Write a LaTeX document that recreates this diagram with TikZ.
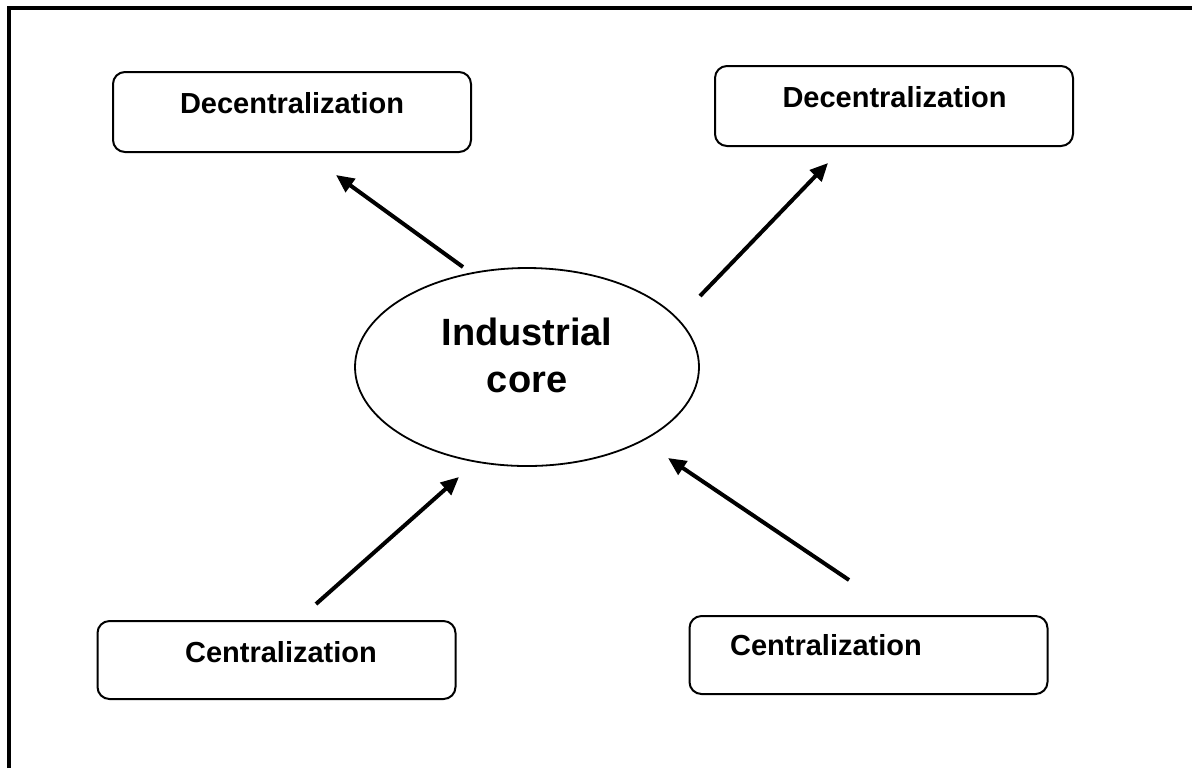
\documentclass[tikz,border=0pt]{standalone}
\usepackage{fontspec}
\setmainfont{Liberation Sans}
\usetikzlibrary{arrows.meta,shapes.geometric,positioning}

\begin{document}
\begin{tikzpicture}[x=0.5pt,y=-0.5pt,
    roundbox/.style={draw, rounded corners=6pt, line width=1pt, minimum width=179pt, minimum height=40pt, inner sep=0pt},
    boxlabel/.style={font=\fontsize{14.5}{17}\selectfont\bfseries, anchor=base, inner sep=0pt},
    coreshape/.style={draw, ellipse, line width=0.9pt, minimum width=172pt, minimum height=99pt, inner sep=0pt},
    corelabel/.style={font=\fontsize{19}{23.5}\selectfont\bfseries, align=center, inner sep=0pt},
    flowarrow/.style={-{Triangle[length=9pt,width=8pt]}, line width=2pt}
]
    \useasboundingbox (0,0) rectangle (1192,768);

    % Frame (only top and left edges visible)
    \draw[line width=2pt] (9,768) -- (9,8) -- (1192,8);

    % Core
    \node[coreshape] (core) at (527,367) {};
    \node[corelabel] (core-text) at (527,355) {Industrial\\core};

    % Outer boxes
    \node[roundbox] (dec-left) at (292,112) {};
    \node[boxlabel] (dec-left-text) at (292,113) {Decentralization};
    \node[roundbox] (dec-right) at (894,106) {};
    \node[boxlabel] (dec-right-text) at (894.5,107) {Decentralization};
    \node[roundbox, minimum height=39pt] (cen-left) at (276.5,660) {};
    \node[boxlabel] (cen-left-text) at (281,662) {Centralization};
    \node[roundbox, minimum height=39pt] (cen-right) at (868.5,655) {};
    \node[boxlabel] (cen-right-text) at (826,655) {Centralization};

    % Arrow ends
    \coordinate (core-nw) at (463,267);
    \coordinate (core-ne) at (700,296);
    \coordinate (core-sw) at (459,477);
    \coordinate (core-se) at (668,458);
    \coordinate (dec-left-end) at (336,175);
    \coordinate (dec-right-end) at (828,163);
    \coordinate (cen-left-end) at (316,604);
    \coordinate (cen-right-end) at (849,580);

    % Arrows
    \draw[flowarrow] (core-nw) -- (dec-left-end);
    \draw[flowarrow] (core-ne) -- (dec-right-end);
    \draw[flowarrow] (cen-left-end) -- (core-sw);
    \draw[flowarrow] (cen-right-end) -- (core-se);
\end{tikzpicture}
\end{document}
